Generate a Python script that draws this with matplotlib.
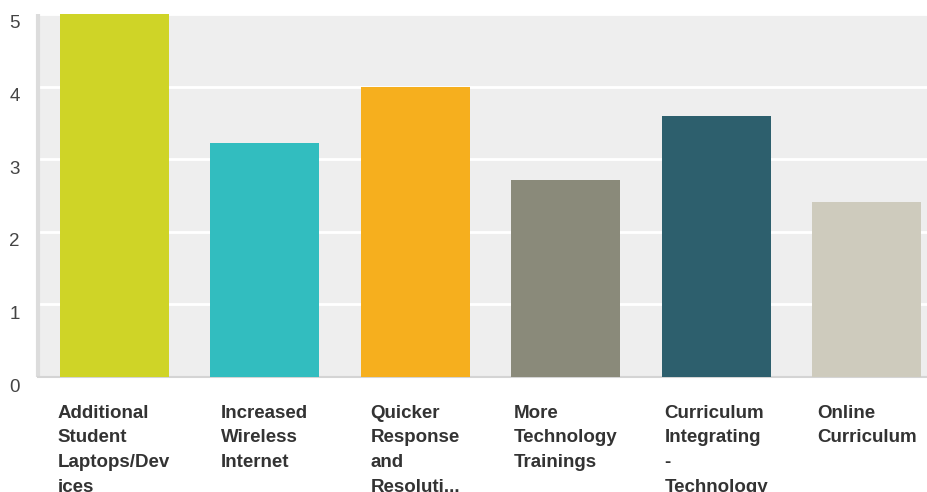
import matplotlib
matplotlib.use("Agg")
import matplotlib.pyplot as plt
from matplotlib.transforms import ScaledTranslation

categories = ["Additional\nStudent\nLaptops/Dev\nices",
              "Increased\nWireless\nInternet",
              "Quicker\nResponse\nand\nResoluti...",
              "More\nTechnology\nTrainings",
              "Curriculum\nIntegrating\n-\nTechnology",
              "Online\nCurriculum"]
values = [5.0, 3.23, 3.99, 2.71, 3.59, 2.41]
colors = ["#cfd427", "#32bdbf", "#f6af1e", "#8a8a7a", "#2d5f6d", "#cecbbd"]
yticks = [0, 1, 2, 3, 4, 5]

plt.rcParams['font.family'] = ['Liberation Sans', 'DejaVu Sans']

W, H = 927, 492
fig = plt.figure(figsize=(W / 100, H / 100), dpi=100)
left, right, top, bottom = 38, 927, 14, 377
ax = fig.add_axes([left / W, 1 - bottom / H, (right - left) / W, (bottom - top) / H])
ax.set_facecolor("#eeeeee")

x = list(range(len(values)))
ax.bar(x, values, width=0.724, color=colors, zorder=3)

ax.set_xlim(-0.505, 5.40)
ax.set_ylim(0, 5.0)
ax.set_yticks(yticks)
ax.set_yticklabels([str(v) for v in yticks], fontsize=13.5, color="#444444")
ax.yaxis.grid(True, color="white", linewidth=2, zorder=1)
ax.set_axisbelow(True)

ax.set_xticks(x)
ax.set_xticklabels(categories, fontsize=13.5, fontweight="bold", color="#333333",
                   linespacing=1.59, va="top", ha="center")
for t in ax.get_xticklabels():
    t.set_multialignment("left")
ax.tick_params(axis="x", length=0, pad=20)
ax.tick_params(axis="y", length=0, pad=13)

off = ScaledTranslation(0, -8 / 100, fig.dpi_scale_trans)
for t in ax.get_yticklabels():
    t.set_transform(t.get_transform() + off)

for s in ["top", "right"]:
    ax.spines[s].set_visible(False)
ax.spines["left"].set_color("#dcdcdc")
ax.spines["left"].set_linewidth(3)
ax.spines["left"].set_capstyle("butt")
ax.spines["bottom"].set_color("#d4d4d4")
ax.spines["bottom"].set_linewidth(1.5)

fig.savefig("out.png", dpi=100)
